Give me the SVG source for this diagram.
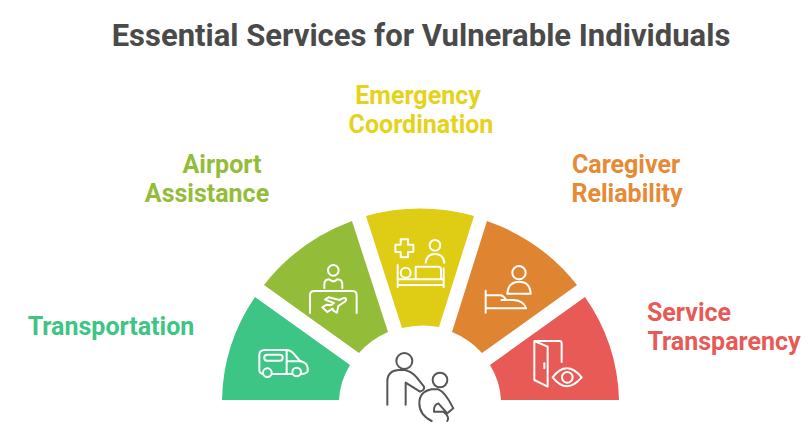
<svg xmlns="http://www.w3.org/2000/svg" width="809" height="423" viewBox="0 0 809 423">
<style>
text{font-family:Roboto,"Liberation Sans",sans-serif;font-weight:700}
.t{font-size:31px;fill:#4a4a4a}
.l{font-size:25px}
.i{fill:none;stroke:#fff;stroke-width:6;stroke-linecap:round;stroke-linejoin:round}
.p{fill:none;stroke:#555;stroke-width:6;stroke-linecap:round;stroke-linejoin:round}
</style>
<rect width="809" height="423" fill="#fff"/>
<text class="t" x="421" y="46" text-anchor="middle">Essential Services for Vulnerable Individuals</text>
<g id="transportation">
<path d="M255 297A198 192 0 0 0 222 400H339A81 76 0 0 1 350 365Z" fill="#3dc585"/>
<g class="i" transform="translate(210 200) scale(.3333)">
<path d="M159 522Q148 520 148 510V465Q148 450 165 450H228Q243 450 252 462L270 483Q293 488 293 505V512Q293 520 275 522M186 522H246"/>
<path d="M230 450V522M232 484H272"/>
<circle cx="172" cy="518" r="13"/><circle cx="260" cy="516" r="13"/>
<rect x="163" y="464" width="55" height="18" rx="8"/>
</g>
<text class="l" x="111" y="335" text-anchor="middle" fill="#3dc585">Transportation</text>
</g>
<g id="airport-assistance">
<path d="M264 285A198 192 0 0 1 352 221L388 332A81 76 0 0 0 359 353Z" fill="#93bd39"/>
<g class="i" transform="translate(210 200) scale(.3333)">
<circle cx="370" cy="211" r="16"/>
<path d="M343 264V254Q343 238 358 238Q370 250 382 238Q397 238 397 254V264"/>
<path d="M300 339V286Q300 273 313 273H427Q440 273 440 286V339"/>
<path d="M408 296Q410 303 400 308L385 318L381 338L370 332L368 326L352 336L337 322L350 314L362 316L372 309L345 299L356 292L388 300L398 295Q405 292 408 296Z"/>
</g>
<text class="l" fill="#93bd39" text-anchor="middle"><tspan x="222" y="173">Airport</tspan><tspan x="207" y="202">Assistance</tspan></text>
</g>
<g id="emergency-coordination">
<path d="M366 216A198 192 0 0 1 474 216L439 327A81 76 0 0 0 402 328Z" fill="#dfcc14"/>
<g class="i" transform="translate(385 230) scale(.3333)">
<path d="M47 28H69V44H85V66H69V82H47V66H31V44H47Z"/>
<circle cx="150" cy="46" r="16"/>
<path d="M122 98Q125 72 150 72Q175 72 178 98"/>
<path d="M38 105V172M38 148H176M176 115V172M38 165H176"/>
<circle cx="62" cy="128" r="15"/>
<path d="M92 146V110H160Q168 110 168 120V146"/>
</g>
<text class="l" fill="#e6d21a" text-anchor="middle"><tspan x="418" y="104">Emergency</tspan><tspan x="421" y="133">Coordination</tspan></text>
</g>
<g id="caregiver-reliability">
<path d="M487 221A198 192 0 0 1 577 285L482 353A81 76 0 0 0 452 332Z" fill="#df8430"/>
<g class="i" transform="translate(400 200) scale(.3333)">
<circle cx="357" cy="218" r="20"/>
<path d="M322 281Q325 245 357 245Q390 245 392 281Z"/>
<path d="M257 272V338M257 286H302Q312 288 318 300L340 300Q372 302 378 325H257M304 300H318"/>
</g>
<text class="l" fill="#e68a35" text-anchor="middle"><tspan x="626" y="173">Caregiver</tspan><tspan x="627" y="202">Reliability</tspan></text>
</g>
<g id="service-transparency">
<path d="M585 297A198 192 0 0 1 619 400H501A81 76 0 0 0 490 365Z" fill="#e75a55"/>
<g class="i" transform="translate(400 200) scale(.3333)">
<path d="M403 423V540L443 560V440L403 423H478Q485 423 485 430V486"/>
<path d="M433 490V505"/>
<path d="M458 532Q500 478 545 532Q500 585 458 532Z"/>
<circle cx="502" cy="532" r="16"/>
</g>
<text class="l" fill="#e75a55" text-anchor="middle"><tspan x="689" y="321">Service</tspan><tspan x="724" y="350">Transparency</tspan></text>
</g>
<g id="center-people">
<g class="p" transform="translate(370 340) scale(.3333)">
<circle cx="103" cy="63" r="24"/>
<path d="M52 194V125Q52 90 90 90H105Q125 95 140 112L162 140Q165 150 150 155L107 128V194"/>
<circle cx="210" cy="120" r="22"/>
<path d="M185 243Q148 225 148 190Q148 155 185 148H205Q225 155 250 205L232 220L205 190Q190 195 192 215H220Q240 230 232 243"/>
</g>
</g>
</svg>
